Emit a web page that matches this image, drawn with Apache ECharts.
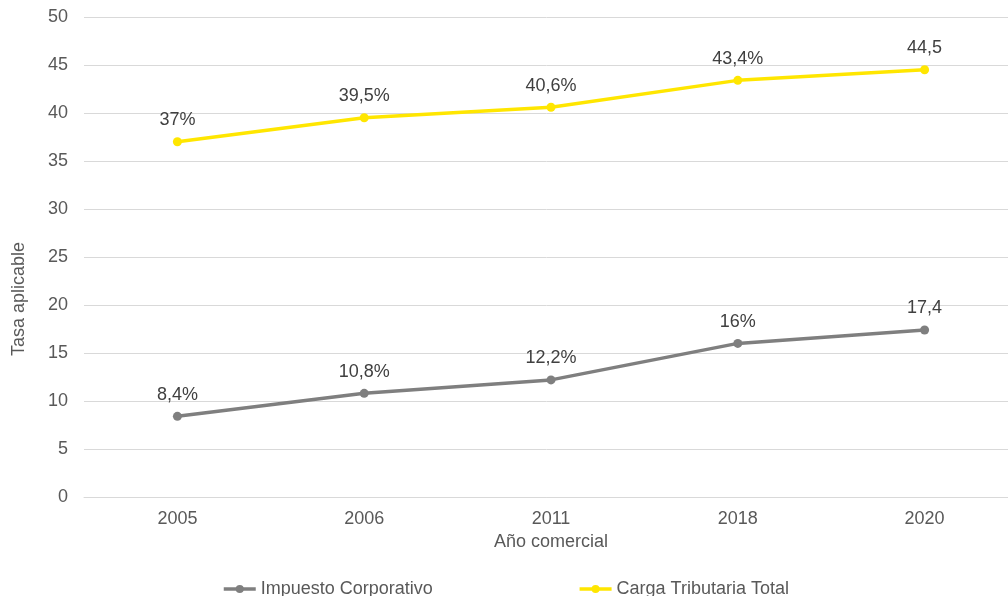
<!DOCTYPE html>
<html><head><meta charset="utf-8">
<script src="https://cdn.jsdelivr.net/npm/echarts@6/dist/echarts.min.js"></script>
<style>html,body{margin:0;padding:0;background:#fff}#c{width:1008px;height:596px}</style>
</head><body><div id="c"></div>
<script>
const categories = ['2005','2006','2011','2018','2020'];
const corporativo = [8.4, 10.8, 12.2, 16, 17.4];
const cargaTotal = [37, 39.5, 40.6, 43.4, 44.5];
const corporativoLabels = ['8,4%','10,8%','12,2%','16%','17,4'];
const cargaLabels = ['37%','39,5%','40,6%','43,4%','44,5'];
const yTicks = {min:0, max:50, interval:5};

const FONT = 'Liberation Sans, Arial, sans-serif';
const chart = echarts.init(document.getElementById('c'));
const lblStyle = {show:true, position:'top', distance:8, fontFamily:FONT, fontSize:18, color:'#404040'};
chart.setOption({
  animation:false,
  grid:{left:84, top:17, width:934, bottom:99, containLabel:false, outerBoundsMode:'none'},
  xAxis:{type:'category', data:categories, boundaryGap:true,
    name:'Año comercial', nameLocation:'middle', nameGap:36,
    nameTextStyle:{fontFamily:FONT, fontSize:18, color:'#595959'},
    axisLine:{lineStyle:{color:'#d9d9d9'}}, axisTick:{show:false},
    axisLabel:{fontFamily:FONT, fontSize:18, color:'#595959', margin:13}},
  yAxis:{type:'value', min:yTicks.min, max:yTicks.max, interval:yTicks.interval,
    name:'Tasa aplicable', nameLocation:'middle', nameGap:56, nameRotate:90,
    nameTextStyle:{fontFamily:FONT, fontSize:18, color:'#595959', padding:[0,84,0,0]},
    axisLine:{show:false}, axisTick:{show:false},
    splitLine:{lineStyle:{color:'#d9d9d9', width:1}},
    axisLabel:{fontFamily:FONT, fontSize:18, color:'#595959', margin:16}},
  legend:{top:575, left:217, itemGap:145, itemWidth:32, itemHeight:10,
    lineStyle:{width:3.5},
    textStyle:{fontFamily:FONT, fontSize:18, color:'#595959'},
    data:['Impuesto Corporativo','Carga Tributaria Total']},
  series:[
    {name:'Impuesto Corporativo', type:'line', data:corporativo, symbol:'circle', symbolSize:9,
     lineStyle:{width:3.5, color:'#7f7f7f'}, itemStyle:{color:'#7f7f7f'},
     label:Object.assign({}, lblStyle, {formatter:p=>corporativoLabels[p.dataIndex]})},
    {name:'Carga Tributaria Total', type:'line', data:cargaTotal, symbol:'circle', symbolSize:9,
     lineStyle:{width:3.5, color:'#ffe600'}, itemStyle:{color:'#ffe600'},
     label:Object.assign({}, lblStyle, {formatter:p=>cargaLabels[p.dataIndex]})}
  ]
});
</script></body></html>
